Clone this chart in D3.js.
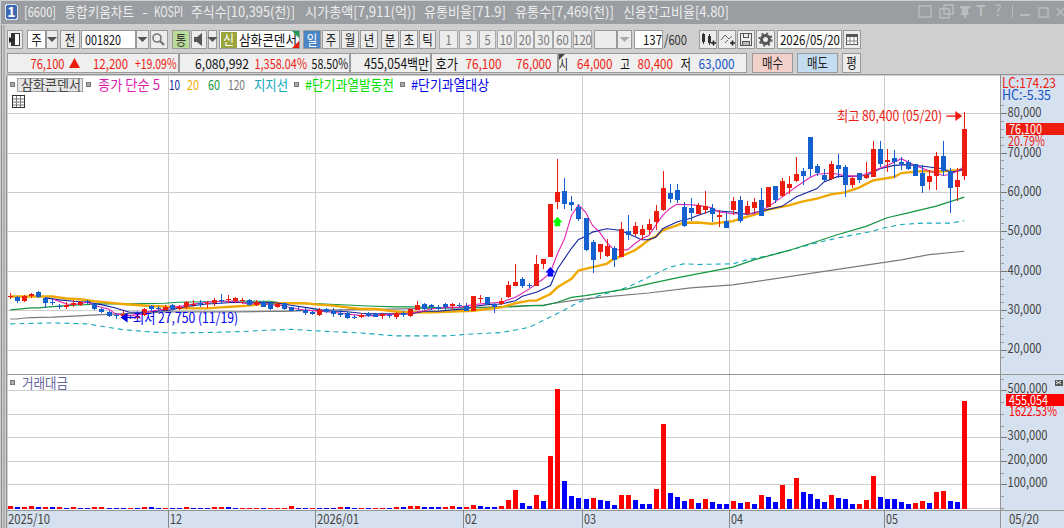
<!DOCTYPE html>
<html>
<head>
<meta charset="utf-8">
<script src="https://cdn.jsdelivr.net/npm/d3@7"></script>
<style>
body { margin: 0; background: #cfcfcf; overflow: hidden; }
svg { display: block; }
text { font-family: "Noto Sans CJK KR", "Noto Sans", sans-serif; }
</style>
</head>
<body>
<div id="chart"></div>
<script>
// daily candles, 2025/10 .. 2026/05/20
var opens = [
33450,33450,32250,33500,34650,32950,32000,31050,30700,31200,
31400,32250,31600,30400,29450,28850,28600,28350,28100,28850,
31050,30650,30050,31200,30200,30700,31300,31750,31600,31900,
32650,32600,32400,32250,32600,31400,32100,31900,30700,31750,
30700,30150,30050,29450,28850,30200,29850,29350,29200,28250,
28150,29300,29050,28400,28850,28350,29350,28600,30150,31600,
31400,30700,31600,30950,31400,31050,29850,32750,33450,31600,
31500,33450,36250,37850,36500,36250,41600,43600,57350,60150,
57350,56250,53300,47200,44650,43850,45650,43600,50000,49450,
49200,50250,52250,55300,59650,60400,56100,55850,54300,55300,
55850,53550,52750,55300,57850,54300,55850,57850,56100,61450,
58900,60900,62700,65250,73900,66500,64200,63200,66750,66250,
61700,64750,63450,63700,70850,67550,68550,67550,67550,67000,
64750,62450,63950,69050,65250,61150,64000];
var highs = [
34350,33700,33950,34450,34800,33250,33100,31650,32100,32600,
32400,32600,31750,30550,29700,29200,29700,28850,29100,30550,
31400,31050,31200,31600,31200,32250,32600,32600,32400,32950,
34100,33950,33450,33100,32750,32600,32400,32100,32100,31900,
30900,30900,30550,29850,30550,30550,30550,30400,29550,28700,
29200,29450,29350,29200,29350,29550,29700,30400,32400,31750,
31600,31200,31750,31900,31900,31900,33700,33750,33450,31900,
33100,37500,41600,38350,36800,44100,43100,56850,68300,63450,
58900,56850,53300,47700,46900,47950,46400,52250,54050,52250,
51500,53050,56600,65250,61950,61950,57350,58350,57100,60150,
56850,55300,54800,58650,58900,57600,58350,60900,61150,61450,
63450,63950,68800,66000,73900,67000,65750,67800,69550,66750,
63700,64750,67550,72900,72900,70850,70600,68800,68050,67000,
66750,65500,70100,72900,66000,66000,80400];
var lows = [
32900,31900,32100,33100,33000,30550,31200,30200,30200,30700,
31050,31600,30050,29350,28350,27850,27750,27850,27850,28500,
29850,29850,29850,30050,30050,30200,30700,30900,30650,31050,
31600,31750,31900,31600,31050,31050,30700,30050,30550,30050,
29700,29700,28850,28700,28400,29350,28350,28350,27750,27800,
28100,28150,28150,27850,28000,27850,28350,28150,30050,30050,
30050,30050,30050,30050,30700,29700,29850,31900,31400,29350,
31400,32950,36250,35650,35650,36250,40400,43600,55650,55650,
55150,52750,44900,39550,43100,43600,41050,43600,47700,48700,
47700,49200,50250,55050,57100,57100,51000,52750,54300,54300,
52500,51000,50750,54050,52000,54050,54800,53800,56100,57100,
58650,59400,62450,61700,63700,63950,62700,62950,63450,58650,
60900,62200,63200,63700,66250,65000,63450,65500,65500,63950,
59650,60400,60400,63950,54550,57600,63000];
var closes = [
33700,32250,33600,34100,33250,31750,31750,30900,31400,31750,
32100,32100,30200,29550,28500,28700,29050,28100,28600,30400,
30400,30300,30900,30300,30900,32100,31600,31600,31850,32650,
32400,32750,33100,32600,31200,32100,30900,30400,31600,30400,
29850,29950,29350,28950,30150,29550,29050,28800,28000,28100,
28850,28400,28350,29050,28400,29350,28800,30200,31400,30300,
30900,30400,30900,31600,31050,29850,33700,33100,31600,30900,
32400,36500,37250,36250,36150,41600,43100,56850,59900,56850,
56600,53050,45150,42850,46900,46400,42850,50500,48950,51250,
50500,51750,55050,60900,58100,57850,51250,54550,56600,56350,
54300,54050,50750,57600,52750,56350,57350,53800,61150,57850,
62700,61950,64500,63950,65750,64750,62950,67000,65750,61700,
63450,62950,64200,70850,67000,68050,67550,67000,65750,63950,
61450,63950,69050,65250,60900,62950,76100];

// trading value, 백만
var volumes = [
7800,3500,3500,7800,3500,3500,3500,3500,1000,3500,
1000,1000,3500,3500,1000,1000,1000,1000,1000,3500,
3500,1000,1000,1000,1000,3500,1000,1000,1000,3500,
3500,3500,1000,1000,1000,1000,1000,1000,1000,1000,
7800,1000,1000,1000,1000,1000,1000,3500,3500,1000,
1000,1000,1000,1000,1000,3500,3500,7800,7800,3500,
3500,3500,3500,7800,3500,3500,12000,7800,3500,3500,
7800,33300,75900,20600,7800,54600,29100,220500,505500,114100,
50300,41800,37600,41800,33300,29100,12000,54600,54600,33300,
16300,16300,80100,356600,63100,46100,29100,37600,20600,37600,
24800,16300,16300,29100,20600,24800,16300,54600,46100,24800,
97100,37600,126900,67400,58800,37600,24800,54600,41800,37600,
16300,16300,33300,135400,46100,37600,37600,24800,16300,20600,
29100,20600,67400,71600,29100,26400,455054];
var volumeSides = ("RBRRBRBRBR" + "BBRRBBBRBR" + "BBRBBRBBBR" + "RBBRRRBRRR" + "RBBRBBBRBB" +
  "RBRRBRBRRB" + "BBRRBRRBBB" + "RRRBBRBRRB" + "BBBRBBBRRB" + "BBRRBBBRBR" +
  "BBBRBRBRBB" + "RBRBBBBRBB" + "BRRRBBBBBR" + "RBRRBBR").split("");

// moving averages, read at the candle numbers next to them
var ma5At = [6,8,9,11,12,14,15,17,19,20,22,23,25,26,28,30,32,34,36,37,39,40,42,44,46,48,50,52,55,57,59,60,62,64,66,68,70,72,73,74,76,77,78,79,80,81,82,83,84,85,86,88,89,90,91,92,93,94,95,97,98,100,101,103,106,108,110,112,114,115,117,119,121,123,125,127,129,131,133,134,135,136];
var ma5 = [32850,31570,31400,32000,31150,30300,29050,28600,29050,29700,30300,30700,31150,31570,32000,32250,32250,31570,31750,31400,31150,30550,30050,29700,29450,29000,28600,28600,29050,29200,29850,30300,30700,30700,31400,31750,32000,33250,34300,35400,37950,39600,44300,48100,54050,56750,54900,51500,49800,47250,45400,45300,46850,48100,48950,51500,54050,55750,56850,56750,56600,56000,54900,54450,54450,56150,58700,61250,63650,64500,64800,64150,63950,65300,66750,68450,66750,65300,64200,64450,65300,66500];
var ma10At = [5,7,9,11,13,15,17,19,21,23,24,26,28,30,32,34,36,38,40,43,45,48,50,52,55,57,59,61,63,65,66,68,70,72,73,75,77,78,80,81,82,83,85,86,87,89,90,91,92,93,95,97,98,100,103,105,107,110,112,115,116,118,120,122,124,126,128,131,133,134,135,136];
var ma10 = [33100,32600,32250,32000,31400,30550,29450,29450,29700,30050,30550,31150,31570,31750,32000,31800,32000,31800,31250,30450,29850,29600,29200,29050,29050,29050,29700,29700,30050,30300,30900,31400,31570,32400,33500,34550,36250,40450,45700,47950,48700,49800,50650,50450,50200,48700,47850,47850,48500,50650,52350,53350,54050,55300,54900,54300,55150,56350,58700,60850,62550,63950,63950,64200,65900,66750,66950,66350,65900,65000,65300,65800];
var ma20At = [0,6,8,10,12,14,16,18,20,22,24,26,28,30,32,34,36,38,40,42,44,46,48,50,52,54,56,58,60,62,64,66,68,70,72,74,75,77,78,80,81,83,85,86,87,89,90,91,92,93,95,96,98,100,103,104,106,108,111,113,115,117,119,121,123,126,127,130,132,135,136];
var ma20 = [33450,33450,32950,32750,32250,31900,31570,31300,31050,30900,30550,30450,30450,30700,30900,31150,31570,31750,31750,31750,31400,31150,30700,30300,30300,29850,29450,29450,29450,29550,29700,29850,30300,30700,31750,32400,32400,34100,35800,37950,40050,40900,41750,43000,43600,45150,46400,47850,48700,50250,51500,52200,52250,51950,52600,53200,54200,55500,56600,57600,58300,59400,59900,61100,62950,63800,64800,65300,65150,65500,65800];
var ma60At = [0,3,4,6,9,10,12,15,17,22,24,32,37,39,44,48,51,55,58,62,68,72,74,76,78,80,82,88,91,95,103,106,111,114,118,122,125,128,132,136];
var ma60 = [30050,30550,30550,30900,31250,31300,31500,31650,31570,31750,32000,32250,32250,31750,31570,31300,31050,30800,30800,30550,30650,30900,31150,31150,32000,33250,33700,35400,36650,38200,40900,42750,45150,46850,49200,51250,53450,54700,56400,58700];
var ma120At = [0,1,2,3,6,9,13,16,20,22,27,32,37,39,42,47,52,58,62,67,70,74,76,80,84,91,97,103,127,131,136];
var ma120 = [27750,27750,28000,28100,28200,28450,28850,29050,29300,29550,29550,29550,29700,29700,29850,30050,30200,30400,30550,30700,30900,31150,31300,32400,33250,34350,35650,36400,42750,44100,44950];
var supportAt = [0,6,11,13,16,20,23,29,33,37,40,45,50,55,60,62,66,70,72,74,79,81,84,88,90,94,96,98,103,105,108,111,114,118,123,124,127,130,134,136];
var support = [26500,26750,26500,25900,25050,24450,24200,24350,24550,24950,25100,24600,24200,23450,23450,23450,23950,24300,24950,25650,30050,32000,33700,35800,37500,40900,41750,41600,41750,42750,43800,45150,46650,48350,50050,50650,51750,52100,52100,52700];

var priceTicks = [20000,30000,40000,50000,60000,70000,80000];
var priceMinorTicks = d3.range(18000, 82001, 2000);
var volumeTicks = [100000,200000,300000,500000];
var volumeGrid = [100000,200000,300000,400000,500000];
var volumeMinorTicks = d3.range(0, 550001, 50000);
var monthStarts = [23,44,65,82,103,125];
var monthLabels = ["12","2026/01","02","03","04","05"];

var maxLabel = "최고 80,400 (05/20)";
var minLabel = "최저 27,750 (11/19)";
var maxAt = 136, maxPrice = 80400;
var minAt = 16, minPrice = 27750;
var signalAt = [77,78];
var signalPrice = [39600,52350];
var signalColor = ["#0000ff","#00ff00"];

var svg = d3.select("#chart").append("svg")
  .attr("width", 1064)
  .attr("height", 528);

// ---- helpers for the terminal chrome
function box(x0, y0, x1, y1, fill, stroke) {
  return svg.append("rect")
    .attr("x", x0 + 0.5).attr("y", y0 + 0.5)
    .attr("width", x1 - x0 - 1).attr("height", y1 - y0 - 1)
    .attr("fill", fill)
    .attr("stroke", stroke || "none")
    .attr("shape-rendering", "crispEdges");
}
function fitText(x0, x1, y, s, color, size) {
  return svg.append("text")
    .attr("x", x0).attr("y", y)
    .attr("dy", "0.36em")
    .attr("font-size", size || 13)
    .attr("fill", color || "#222")
    .attr("textLength", x1 - x0)
    .attr("lengthAdjust", "spacingAndGlyphs")
    .text(s);
}
function button(x0, x1, y0, y1, s, fill, color, tx0, tx1) {
  box(x0, y0, x1, y1, fill || "#ececec", "#9a9a9a");
  if (s) {
    var w = tx1 ? tx1 - tx0 : s.length * 10.5;
    var a = tx0 || (x0 + x1 - w) / 2;
    fitText(a, a + w, (y0 + y1) / 2, s, color || "#222", 14);
  }
}
function arrowDown(cx, cy, color) {
  svg.append("path")
    .attr("d", "M" + (cx - 5) + "," + (cy - 2) + "h10l-5,5z")
    .attr("fill", color || "#555");
}

// ---- window frame
box(0, 0, 1064, 528, "#cfcfcf");
box(0, 0, 1064, 24, "#9a9da1");
box(0, 24, 2, 528, "#85888c");
box(2, 24, 5, 528, "#aeb0b2");

box(5, 4, 18, 20, "#3f68b0", "#dfe6f2").attr("rx", 3);
svg.append("text").attr("x", 11.5).attr("y", 17).attr("text-anchor", "middle")
  .attr("font-size", 14).attr("font-weight", "bold").attr("fill", "#fff").text("1");
[[24,56,"[6600]"],[64.5,134,"통합키움차트"],[142,148,"-"],[154,183,"KOSPI"],
 [191,295,"주식수[10,395(천)]"],[305,416,"시가총액[7,911(억)]"],[424,506,"유통비율[71.9]"],
 [515,614,"유통수[7,469(천)]"],[623,729,"신용잔고비율[4.80]"]].forEach(function(t) {
  fitText(t[0], t[1], 11.5, t[2], "#ededed", 14);
});

// title bar buttons
var titleIconColor = "#b9bcbf";
[[919,6,12,11],[940,9,9,9],[1039,8,9,9]].forEach(function(r) {
  svg.append("rect").attr("x", r[0]).attr("y", r[1]).attr("width", r[2]).attr("height", r[3])
    .attr("fill", "none").attr("stroke", titleIconColor).attr("stroke-width", 1.5);
});
svg.append("rect").attr("x", 944).attr("y", 5).attr("width", 9).attr("height", 9)
  .attr("fill", "none").attr("stroke", titleIconColor).attr("stroke-width", 1.5);
svg.append("path").attr("d", "M960,6h10v2l-2,1v4l2,2h-4v3h-2v-3h-4l2,-2v-4l-2,-1z").attr("fill", titleIconColor);
svg.append("text").attr("x", 981).attr("y", 16).attr("text-anchor", "middle").attr("font-size", 15)
  .attr("font-family", "Liberation Serif").attr("font-weight", "bold").attr("fill", titleIconColor).text("T");
svg.append("text").attr("x", 998).attr("y", 16).attr("text-anchor", "middle").attr("font-size", 15)
  .attr("fill", titleIconColor).text("?");
svg.append("line").attr("x1", 1012.5).attr("x2", 1012.5).attr("y1", 5).attr("y2", 18).attr("stroke", titleIconColor);
svg.append("rect").attr("x", 1020).attr("y", 14).attr("width", 10).attr("height", 2).attr("fill", titleIconColor);
svg.append("path").attr("d", "M1057,8l7,8m0,-8l-7,8").attr("stroke", titleIconColor).attr("fill", "none").attr("stroke-width", 1.4);

// ---- first toolbar row
var ry0 = 30, ry1 = 49;
button(7, 23, ry0, ry1, "");
box(11, 33, 20, 46, "#fff", "#333");
box(11, 33, 15, 46, "#333");
svg.append("path").attr("d", "M9,37l5,3l-5,3z").attr("fill", "#222");
button(27, 46, ry0, ry1, "주", "#fff");
button(46, 58, ry0, ry1, ""); arrowDown(52, 39);
button(60, 80, ry0, ry1, "전");
box(81, ry0, 136, ry1, "#fff", "#9a9a9a");
fitText(85, 121, 40, "001820", "#111", 14);
button(136, 149, ry0, ry1, ""); arrowDown(142.5, 39);
button(150, 168, ry0, ry1, "");
svg.append("circle").attr("cx", 157).attr("cy", 38).attr("r", 4).attr("fill", "none").attr("stroke", "#777").attr("stroke-width", 1.6);
svg.append("line").attr("x1", 160).attr("y1", 41).attr("x2", 164).attr("y2", 45).attr("stroke", "#777").attr("stroke-width", 2.4);
button(172, 190, ry0, ry1, "통", "#b8dc9a", "#333");
button(191, 207, ry0, ry1, "");
svg.append("path").attr("d", "M194,37h3l5,-4v13l-5,-4h-3z").attr("fill", "#555");
button(208, 217, ry0, ry1, ""); arrowDown(212.5, 39);
box(219, ry0, 300, ry1, "#fff", "#9a9a9a");
box(220, 31, 237, 48, "#9aa63c");
fitText(223, 234, 39.5, "신", "#fff", 13);
fitText(239, 297, 39.5, "삼화콘덴서", "#111", 14);
svg.append("path").attr("d", "M292,31h7v7z").attr("fill", "#18a050");
svg.append("path").attr("d", "M299,41v7h-7z").attr("fill", "#e81c0c");
button(303, 321, ry0, ry1, "일", "#4a86c6", "#fff");
[[322,340,"주"],[341,359,"월"],[360,378,"년"],[381,399,"분"],[400,418,"초"],[419,436,"틱"]].forEach(function(b) {
  button(b[0], b[1], ry0, ry1, b[2]);
});
[[439,458,"1"],[459,478,"3"],[479,496,"5"],[497,515,"10"],[516,534,"20"],[534,553,"30"],[553,572,"60"],[573,592,"120"]].forEach(function(b) {
  box(b[0], ry0, b[1], ry1, "#ececec", "#a8a8a8");
  svg.append("text").attr("x", (b[0] + b[1]) / 2).attr("y", 40).attr("dy", "0.36em")
    .attr("text-anchor", "middle").attr("font-size", 14).attr("fill", "#777")
    .attr("textLength", b[2].length * 6.2).attr("lengthAdjust", "spacingAndGlyphs").text(b[2]);
});
button(594, 617, ry0, ry1, "");
button(617, 632, ry0, ry1, ""); arrowDown(624.5, 39, "#aaa");
box(634, ry0, 663, ry1, "#fff", "#9a9a9a");
fitText(643, 662, 40, "137", "#111", 14);
fitText(664, 687, 40, "/600", "#333", 14);
button(699, 717, ry0, ry1, ""); button(718, 736, ry0, ry1, "");
button(737, 755, ry0, ry1, ""); button(756, 775, ry0, ry1, "");
// candle, line, save, settings icons
svg.append("path").attr("d", "M702,34h3v8h-3zM708,36h3v7h-3zM703,33h1v11h-1zM709,34h1v11h-1z").attr("fill", "#333");
svg.append("path").attr("d", "M711,43h5M713.5,40.500v5M730,43h5M732.500,40.500v5").attr("stroke", "#222").attr("stroke-width", 1.6).attr("fill", "none");
svg.append("path").attr("d", "M721,40l4,-5l4,4l3,-3M725,43l3,-3").attr("stroke", "#666").attr("fill", "none");
box(740, 33, 752, 46, "none", "#555");
box(743, 33, 749, 38, "none", "#555");
box(742, 41, 750, 46, "#bbb", "#555");
svg.append("circle").attr("cx", 765.5).attr("cy", 39.500).attr("r", 4).attr("fill", "none").attr("stroke", "#555").attr("stroke-width", 3);
svg.append("circle").attr("cx", 765.5).attr("cy", 39.500).attr("r", 6.200).attr("fill", "none").attr("stroke", "#555").attr("stroke-width", 1.8).attr("stroke-dasharray", "2 2.870");
box(777, ry0, 842, ry1, "#fff", "#9a9a9a");
fitText(780, 840, 40, "2026/05/20", "#111", 14);
button(843, 861, ry0, ry1, "");
box(846, 34, 858, 45, "#fff", "#555");
box(846, 34, 858, 37, "#555");
svg.append("path").attr("d", "M850,37v8M854,37v8M846,41h12").attr("stroke", "#888").attr("fill", "none");

// ---- second toolbar row: quote
var qy0 = 53, qy1 = 73, qy = 63.5;
[[7,179],[179,350],[350,431],[431,558],[558,747]].forEach(function(b) {
  box(b[0], qy0, b[1], qy1, "#efefef", "#9a9a9a");
});
var quoteRed = "#ee1c12", quoteBlue = "#1454c8";
fitText(30.500, 64.500, qy, "76,100", quoteRed, 14);
svg.append("path").attr("d", "M69,68l5.500,-10l5.500,10z").attr("fill", "#e81c0c");
fitText(93, 128, qy, "12,200", quoteRed, 14);
fitText(135, 176.500, qy, "+19.09%", quoteRed, 14);
fitText(195, 249, qy, "6,080,992", "#111", 14);
fitText(254.500, 307, qy, "1,358.04%", quoteRed, 14);
fitText(311.500, 348, qy, "58.50%", "#111", 14);
fitText(364, 429, qy, "455,054백만", "#111", 14);
fitText(435.500, 458, qy, "호가", "#111", 14);
fitText(465.500, 501.500, qy, "76,100", quoteRed, 14);
fitText(516, 551.500, qy, "76,000", quoteRed, 14);
svg.append("path").attr("d", "M559,54h6l-6,6z").attr("fill", "#444");
fitText(559, 568, qy, "시", "#111", 14);
fitText(577, 612.500, qy, "64,000", quoteRed, 14);
fitText(620, 630, qy, "고", "#111", 14);
fitText(637.500, 673, qy, "80,400", quoteRed, 14);
fitText(680.500, 691, qy, "저", "#111", 14);
fitText(698.500, 734.500, qy, "63,000", quoteBlue, 14);
button(752, 793, qy0, qy1, "매수", "#f3cfc9", "#222");
button(797, 838, qy0, qy1, "매도", "#c4dcf0", "#222");
button(842, 861, qy0, qy1, "평", "#ececec", "#222");

// ---- panels
var left = 7, right = 1000;
var priceTop = 75, priceBottom = 374, volumeBottom = 510;
box(left, priceTop, right, volumeBottom, "#fff");
box(right, priceTop, 1064, 528, "#d6e1ef");
box(left, volumeBottom, right, 528, "#d6e1ef");

var x = d3.scaleBand().domain(d3.range(opens.length)).range([6.8, 967.8]);
var yPrice = d3.scaleLinear().domain([20000, 80000]).range([349.5, 113.2]);
var yVolume = d3.scaleLinear().domain([0, 500000]).range([507.8, 390.3]);
function centerX(i) { return x(i) + x.step() / 2; }
var gridColor = "#cdcdcd";

// grid
var grid = svg.append("g").attr("stroke", gridColor).attr("shape-rendering", "crispEdges");
grid.selectAll(".hp").data(priceTicks).enter().append("line")
  .attr("x1", left).attr("x2", right)
  .attr("y1", function(d) { return Math.round(yPrice(d)) + 0.5; })
  .attr("y2", function(d) { return Math.round(yPrice(d)) + 0.5; });
grid.selectAll(".hv").data(volumeGrid).enter().append("line")
  .attr("x1", left).attr("x2", right)
  .attr("y1", function(d) { return Math.round(yVolume(d)) + 0.5; })
  .attr("y2", function(d) { return Math.round(yVolume(d)) + 0.5; });
grid.append("line").attr("x1", left).attr("x2", right).attr("y1", 508.5).attr("y2", 508.5);
grid.selectAll(".vg").data(monthStarts).enter().append("line")
  .attr("x1", function(d) { return Math.round(x(d)) + 0.5; })
  .attr("x2", function(d) { return Math.round(x(d)) + 0.5; })
  .attr("y1", priceTop).attr("y2", volumeBottom);

// moving averages
function drawLine(at, values, color, width, dash) {
  var line = d3.line()
    .x(function(d, k) { return centerX(at[k]); })
    .y(function(d) { return yPrice(d); });
  svg.append("path")
    .attr("d", line(values))
    .attr("fill", "none")
    .attr("stroke", color)
    .attr("stroke-width", width)
    .attr("stroke-dasharray", dash || null);
}
drawLine(supportAt, support, "#12a8bc", 1.1, "5 4");
drawLine(ma120At, ma120, "#7a7a7a", 1.2);
drawLine(ma60At, ma60, "#129640", 1.2);
drawLine(ma20At, ma20, "#f0a800", 2.4);
drawLine(ma10At, ma10, "#1224a0", 1.1);
drawLine(ma5At, ma5, "#e024b0", 1.1);

// candles
var upColor = "#ec1c0e", downColor = "#1560cf";
var candles = svg.append("g").attr("shape-rendering", "crispEdges");
var idx = d3.range(opens.length);
function candleColor(i) { return closes[i] >= opens[i] ? upColor : downColor; }
candles.selectAll(".wick").data(idx).enter().append("rect")
  .attr("x", function(i) { return Math.round(centerX(i)) - 0.5; })
  .attr("width", 1)
  .attr("y", function(i) { return yPrice(highs[i]); })
  .attr("height", function(i) { return yPrice(lows[i]) - yPrice(highs[i]); })
  .attr("fill", candleColor);
candles.selectAll(".body").data(idx).enter().append("rect")
  .attr("x", function(i) { return Math.round(centerX(i)) - 2.5; })
  .attr("width", 5)
  .attr("y", function(i) { return yPrice(Math.max(opens[i], closes[i])); })
  .attr("height", function(i) { return Math.max(1, Math.abs(yPrice(opens[i]) - yPrice(closes[i]))); })
  .attr("fill", candleColor);

// signal arrows
svg.selectAll(".signal").data(signalAt).enter().append("path")
  .attr("transform", function(d, k) { return "translate(" + centerX(d) + "," + yPrice(signalPrice[k]) + ")"; })
  .attr("d", "M0,-5L4.500,0H2.500V4H-2.500V0H-4.500Z")
  .attr("fill", function(d, k) { return signalColor[k]; })
  .attr("stroke", function(d, k) { return signalColor[k]; })
  .attr("stroke-width", 0.5);

// high / low notes
var hx = centerX(maxAt), hy = yPrice(maxPrice) + 4.500;
fitText(837, 942, hy, maxLabel, "#ee1c12", 14);
svg.append("path").attr("d", "M" + (hx - 18) + "," + hy + "h10").attr("stroke", "#ee1c12").attr("stroke-width", 1.4);
svg.append("path").attr("d", "M" + (hx - 9) + "," + (hy - 5) + "l7,5l-7,5z").attr("fill", "#ee1c12");
var lx = centerX(minAt), ly = yPrice(minPrice) - 1.5;
svg.append("path").attr("d", "M" + (lx + 4) + "," + ly + "h9").attr("stroke", "#0000ee").attr("stroke-width", 1.4);
svg.append("path").attr("d", "M" + (lx + 5) + "," + (ly - 5) + "l-7,5l7,5z").attr("fill", "#0000ee");
fitText(133, 238, ly, minLabel, "#0000ee", 14);

// volume bars
svg.append("g").attr("shape-rendering", "crispEdges")
  .selectAll("rect").data(volumes).enter().append("rect")
  .attr("x", function(d, i) { return Math.round(centerX(i)) - 2.5; })
  .attr("width", 5)
  .attr("y", function(d) { return Math.round(yVolume(d)); })
  .attr("height", function(d) { return 509 - Math.round(yVolume(d)); })
  .attr("fill", function(d, i) { return volumeSides[i] === "R" ? "#ff0000" : "#0000ff"; });

// right axes
function styleAxis(g) {
  g.select(".domain").remove();
  g.selectAll("line").attr("stroke", "#777").attr("shape-rendering", "crispEdges");
  g.selectAll("text").attr("font-size", 14).attr("fill", "#444")
    .attr("transform", "translate(0,-1)")
    .attr("textLength", 34).attr("lengthAdjust", "spacingAndGlyphs");
}
function minorAxis(scale, ticks, top, bottom) {
  var g = svg.append("g").attr("transform", "translate(" + (right + 0.5) + ",0)")
    .call(d3.axisRight(scale).tickValues(ticks.filter(function(d) {
      return scale(d) > top && scale(d) < bottom;
    })).tickSize(3).tickFormat(""));
  g.select(".domain").remove();
  g.selectAll("line").attr("stroke", "#999").attr("shape-rendering", "crispEdges");
}
minorAxis(yPrice, priceMinorTicks, 100, 372);
minorAxis(yVolume, volumeMinorTicks, 378, 509);
svg.append("g").attr("transform", "translate(" + (right + 0.5) + ",0)")
  .call(d3.axisRight(yPrice).tickValues(priceTicks).tickSize(6).tickPadding(1).tickFormat(d3.format(",")))
  .call(styleAxis);
svg.append("g").attr("transform", "translate(" + (right + 0.5) + ",0)")
  .call(d3.axisRight(yVolume).tickValues(volumeTicks).tickSize(6).tickPadding(1).tickFormat(d3.format(",")))
  .call(function(g) {
    styleAxis(g);
    g.selectAll("text").attr("textLength", 40).attr("transform", "translate(0,-2)");
  });

// borders
var borderColor = "#949494";
svg.append("path")
  .attr("d", "M6.500,74.500H1063.500M6.500,374.500H1063.500M6.500,510.500H1063.500M" + (right + 0.5) + ",74.500V528M6.500,74.500V528")
  .attr("stroke", borderColor).attr("fill", "none").attr("stroke-width", 1)
  .attr("shape-rendering", "crispEdges");

// date axis
svg.selectAll(".mt").data(monthStarts).enter().append("line")
  .attr("x1", function(d) { return Math.round(x(d)) + 0.5; })
  .attr("x2", function(d) { return Math.round(x(d)) + 0.5; })
  .attr("y1", volumeBottom).attr("y2", 528)
  .attr("stroke", "#888").attr("shape-rendering", "crispEdges");
fitText(8, 50, 519, "2025/10", "#444", 14);
monthLabels.forEach(function(s, k) {
  var a = Math.round(x(monthStarts[k])) + 2;
  fitText(a, a + (s.length > 2 ? 42 : 12), 519, s, "#444", 14);
});
fitText(1009, 1039, 519, "05/20", "#444", 14);

// price tags
fitText(1002, 1056, 83, "LC:174.23", "#ee1c12", 14);
fitText(1002, 1051, 95, "HC:-5.35", "#1454c8", 14);
box(1005, 122, 1064, 135, "#ec1c0e");
fitText(1009, 1042, 128.5, "76,100", "#fff", 14);
fitText(1008, 1045, 141, "20.79%", "#ee1c12", 14);
box(1005, 393, 1064, 406, "#ff0000");
fitText(1009, 1048, 399.500, "455,054", "#fff", 14);
fitText(1009, 1057, 411, "1622.53%", "#ff0000", 14);
box(1054, 379, 1063, 386, "#555");
svg.append("path").attr("d", "M1056,381l5,3m0,-3l-5,3").attr("stroke", "#eee");

// legends
function square(x0, y0) { box(x0, y0, x0 + 5, y0 + 5, "#aaa", "#777"); }
square(10, 82);
box(17, 78, 83, 92, "#e6e6e6", "#a0a0a0");
fitText(21, 81, 84.5, "삼화콘덴서", "#444", 14);
square(86, 82);
fitText(98, 160, 84.5, "종가 단순 5", "#e020b0", 14);
fitText(169, 180, 84.5, "10", "#1224a0", 14);
fitText(187, 199, 84.5, "20", "#f0a800", 14);
fitText(208, 220, 84.5, "60", "#129640", 14);
fitText(228, 245, 84.5, "120", "#777", 14);
fitText(254, 288, 84.5, "지지선", "#12a8bc", 14);
square(294, 82);
fitText(305, 394, 84.5, "#단기과열발동전", "#00e000", 14);
square(400, 82);
fitText(411, 489, 84.5, "#단기과열대상", "#0000ee", 14);
box(12, 95, 25, 108, "#fff", "#333");
svg.append("path").attr("d", "M13,99h11M13,102h11M13,105h11M16.500,96v11M20.500,96v11").attr("stroke", "#777").attr("fill", "none");
square(10, 380);
fitText(22, 68, 383, "거래대금", "#66669c", 14);
</script>
</body>
</html>
